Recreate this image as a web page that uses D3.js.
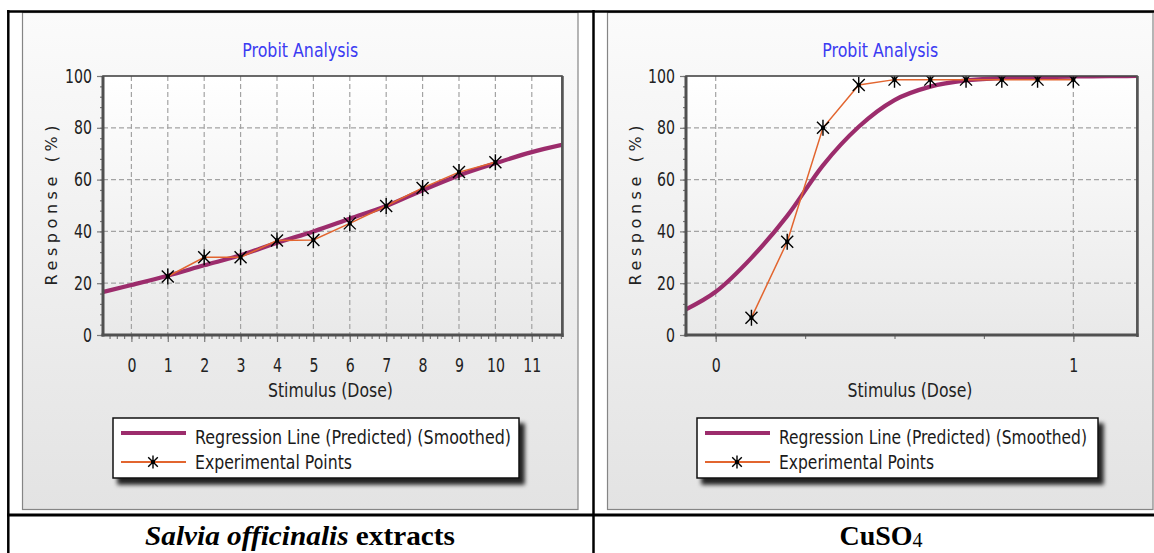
<!DOCTYPE html>
<html>
<head>
<meta charset="utf-8">
<script src="https://cdn.jsdelivr.net/npm/d3@7"></script>
<style>
  body { margin: 0; background: #fff; }
  svg { display: block; }
</style>
</head>
<body>
<svg id="fig"></svg>
<script>
// ---- data ----
const yTicks = [0, 20, 40, 60, 80, 100];

// Salvia officinalis extracts
const leftXDomain = [-0.78, 11.83];
const leftXTicks = [0, 1, 2, 3, 4, 5, 6, 7, 8, 9, 10, 11];
const leftDoses = [1, 2, 3, 4, 5, 6, 7, 8, 9, 10];
const leftObserved = [22.6, 30.0, 30.0, 36.5, 36.7, 43.1, 49.8, 56.8, 62.9, 66.7];
const leftFitDoses = [-0.78, 0, 1, 2, 3, 4, 5, 6, 7, 8, 9, 10, 11, 11.83];
const leftFitted = [16.6, 19.3, 22.9, 26.9, 30.8, 35.6, 40.0, 44.9, 49.8, 55.9, 61.6, 66.3, 70.6, 73.4];

// CuSO4
const rightXDomain = [-0.083, 1.178];
const rightXTicks = [0, 0.25, 0.5, 0.75, 1];
const rightXLabels = [0, 1];
const rightDoses = [0.1, 0.2, 0.3, 0.4, 0.5, 0.6, 0.7, 0.8, 0.9, 1.0];
const rightObserved = [6.7, 36.0, 80.0, 96.5, 98.6, 98.6, 98.6, 98.6, 98.6, 98.6];
const rightFitDoses = [-0.083, 0, 0.1, 0.2, 0.3, 0.4, 0.5, 0.6, 0.7, 0.8, 0.9, 1.0, 1.1, 1.178];
const rightFitted = [9.9, 16.7, 29.8, 46.0, 65.5, 80.4, 90.7, 95.9, 98.3, 99.2, 99.6, 99.8, 99.9, 100];

const chartTitle = "Probit Analysis";
const xTitle = "Stimulus (Dose)";
const yTitle = "Response (%)";
const legendLabels = ["Regression Line (Predicted) (Smoothed)", "Experimental Points"];

const W = 1154, H = 553;
const purple = "#9c2c6c", orange = "#e2652f";
const font = "DejaVu Sans, Verdana, sans-serif";
const serif = "Liberation Serif, Times New Roman, serif";

const svg = d3.select("#fig").attr("width", W).attr("height", H);
const defs = svg.append("defs");

function vGrad(id, top, bottom) {
    const g = defs.append("linearGradient").attr("id", id)
        .attr("x1", 0).attr("y1", 0).attr("x2", 0).attr("y2", 1);
    g.append("stop").attr("offset", "0%").attr("stop-color", top);
    g.append("stop").attr("offset", "100%").attr("stop-color", bottom);
}
vGrad("panelBg", "#fbfbfb", "#e3e3e3");
vGrad("plotBg", "#ffffff", "#e9e9e9");

defs.append("filter").attr("id", "shadow")
    .attr("x", "-10%").attr("y", "-30%").attr("width", "125%").attr("height", "170%")
    .append("feDropShadow")
    .attr("dx", 5).attr("dy", 6).attr("stdDeviation", 2)
    .attr("flood-color", "#000").attr("flood-opacity", 0.85);

function starPath(cx, cy, s) {
    const p = d3.path();
    p.moveTo(cx, cy - 8 * s); p.lineTo(cx, cy + 8 * s);
    p.moveTo(cx - 6 * s, cy - 6 * s); p.lineTo(cx + 6 * s, cy + 6 * s);
    p.moveTo(cx + 6 * s, cy - 6 * s); p.lineTo(cx - 6 * s, cy + 6 * s);
    return p.toString();
}

function drawStar(g, cx, cy, s) {
    g.append("path").attr("d", starPath(cx, cy, s))
        .attr("stroke", "#000").attr("stroke-width", 1.4).attr("fill", "none");
    g.append("rect").attr("x", cx - 2).attr("y", cy - 2).attr("width", 4).attr("height", 4).attr("fill", "#000");
}

// the source picture is stretched a bit vertically, so legend text gets a y-scale
function tallText(parent, x, y, size, sy, width, label) {
    return parent.append("g")
        .attr("transform", "translate(" + x + "," + y + ") scale(1," + sy + ")")
        .append("text")
        .attr("font-family", font).attr("font-size", size).attr("fill", "#1a1a1a")
        .attr("textLength", width).attr("lengthAdjust", "spacingAndGlyphs")
        .text(label);
}

const charts = [
    {
        id: "left", panel: [22.5, 12.5, 555.5, 497], plot: [103, 76, 562, 335],
        xDomain: leftXDomain, xMajor: leftXTicks, xLabels: leftXTicks, xGrid: leftXTicks,
        xMinor: d3.range(-3, 60).map(i => i / 5),
        obsX: leftDoses, obsY: leftObserved, fitX: leftFitDoses, fitY: leftFitted,
        legend: [113, 418, 406, 60], legendText: [316, 157], yTitleX: 56.5, xTitleX: 330.5
    },
    {
        id: "right", panel: [607.5, 12.5, 545.5, 497], plot: [686, 76, 1137, 335],
        xDomain: rightXDomain, xMajor: rightXLabels, xLabels: rightXLabels, xGrid: rightXLabels,
        xMinor: rightXTicks,
        obsX: rightDoses, obsY: rightObserved, fitX: rightFitDoses, fitY: rightFitted,
        legend: [697, 418, 401, 60], legendText: [308, 155], yTitleX: 641, xTitleX: 910
    }
];

charts.forEach(function (c) {
    const [px0, py0, px1, py1] = c.plot;
    const root = svg.append("g").attr("id", c.id);

    // panel
    root.append("rect")
        .attr("x", c.panel[0]).attr("y", c.panel[1])
        .attr("width", c.panel[2]).attr("height", c.panel[3])
        .attr("fill", "url(#panelBg)").attr("stroke", "#858585").attr("stroke-width", 1.2);

    root.append("text")
        .attr("x", c.panel[0] + c.panel[2] / 2).attr("y", 56.5)
        .attr("text-anchor", "middle")
        .attr("font-family", font).attr("font-size", 20)
        .attr("textLength", 116).attr("lengthAdjust", "spacingAndGlyphs")
        .attr("fill", "#3b3bf2")
        .text(chartTitle);

    const x = d3.scaleLinear().domain(c.xDomain).range([px0, px1]);
    const y = d3.scaleLinear().domain([0, 100]).range([py1, py0]);

    // plot background
    root.append("rect")
        .attr("x", px0).attr("y", py0).attr("width", px1 - px0).attr("height", py1 - py0)
        .attr("fill", "url(#plotBg)");

    // grid
    const grid = root.append("g")
        .attr("stroke", "#a3a3a3").attr("stroke-width", 1.2).attr("stroke-dasharray", "5,3");
    grid.selectAll(".gx").data(c.xGrid).join("line")
        .attr("x1", d => x(d)).attr("x2", d => x(d))
        .attr("y1", py0).attr("y2", py1);
    grid.selectAll(".gy").data(yTicks.slice(1, -1)).join("line")
        .attr("x1", px0).attr("x2", px1)
        .attr("y1", d => y(d)).attr("y2", d => y(d));

    // series, clipped to the plot area
    root.append("clipPath").attr("id", "clip-" + c.id)
        .append("rect").attr("x", px0).attr("y", py0).attr("width", px1 - px0).attr("height", py1 - py0);
    const marks = root.append("g").attr("clip-path", "url(#clip-" + c.id + ")");

    const fit = c.fitX.map((d, i) => [d, c.fitY[i]]);
    const obs = c.obsX.map((d, i) => [d, c.obsY[i]]);

    marks.append("path").datum(fit)
        .attr("fill", "none").attr("stroke", purple).attr("stroke-width", 4.2)
        .attr("d", d3.line().x(d => x(d[0])).y(d => y(d[1])).curve(d3.curveMonotoneX));

    marks.append("path").datum(obs)
        .attr("fill", "none").attr("stroke", orange).attr("stroke-width", 1.5)
        .attr("d", d3.line().x(d => x(d[0])).y(d => y(d[1])));

    marks.selectAll(".pt").data(obs).join("path")
        .attr("class", "pt")
        .attr("d", d => starPath(x(d[0]), y(d[1]), 1))
        .attr("stroke", "#000").attr("stroke-width", 1.4).attr("fill", "none");
    marks.selectAll(".ptc").data(obs).join("rect")
        .attr("class", "ptc")
        .attr("x", d => x(d[0]) - 2).attr("y", d => y(d[1]) - 2)
        .attr("width", 4).attr("height", 4).attr("fill", "#000");

    // frame
    root.append("rect")
        .attr("x", px0).attr("y", py0).attr("width", px1 - px0).attr("height", py1 - py0)
        .attr("fill", "none").attr("stroke", "#454545").attr("stroke-width", 1.6);
    root.append("line").attr("x1", px1 + 0.5).attr("x2", px1 + 0.5).attr("y1", py0).attr("y2", py1 + 2)
        .attr("stroke", "#555").attr("stroke-width", 2.5);

    // y axis
    const yMinor = root.append("g").attr("transform", "translate(" + px0 + ",0)")
        .call(d3.axisLeft(y).tickValues(d3.range(0, 101, 4)).tickSize(3).tickFormat(""));
    const yAxis = root.append("g").attr("transform", "translate(" + px0 + ",0)")
        .call(d3.axisLeft(y).tickValues(yTicks).tickSize(6).tickPadding(10));
    [yMinor, yAxis].forEach(a => {
        a.select(".domain").remove();
        a.selectAll(".tick line").attr("stroke", "#7a7a7a").attr("stroke-width", 1.2);
    });
    yAxis.selectAll("text")
        .attr("font-family", font).attr("font-size", 19).attr("fill", "#222")
        .attr("x", -11)
        .attr("textLength", d => String(d).length * 9).attr("lengthAdjust", "spacingAndGlyphs");

    // x axis
    const xMinor = root.append("g").attr("transform", "translate(0," + py1 + ")")
        .call(d3.axisBottom(x).tickValues(c.xMinor).tickSize(4).tickFormat(""));
    const xAxis = root.append("g").attr("transform", "translate(0," + py1 + ")")
        .call(d3.axisBottom(x).tickValues(c.xMajor).tickSize(7).tickFormat(d => String(d)));
    [xMinor, xAxis].forEach(a => {
        a.select(".domain").remove();
        a.selectAll(".tick line").attr("stroke", "#7a7a7a").attr("stroke-width", 1.2);
    });
    xAxis.selectAll("text")
        .attr("font-family", font).attr("font-size", 19).attr("fill", "#222")
        .attr("y", 37).attr("dy", null)
        .attr("textLength", d => String(d).length * 9).attr("lengthAdjust", "spacingAndGlyphs");

    // heavy axis lines
    root.append("line").attr("x1", px0).attr("x2", px0).attr("y1", py0).attr("y2", py1 + 1.5)
        .attr("stroke", "#505050").attr("stroke-width", 3);
    root.append("line").attr("x1", px0 - 1.5).attr("x2", px1 + 1.5).attr("y1", py1).attr("y2", py1)
        .attr("stroke", "#505050").attr("stroke-width", 3);

    // axis titles
    root.append("text")
        .attr("x", c.xTitleX).attr("y", 397)
        .attr("text-anchor", "middle")
        .attr("font-family", font).attr("font-size", 19).attr("fill", "#222")
        .attr("textLength", 125).attr("lengthAdjust", "spacingAndGlyphs")
        .text(xTitle);
    root.append("text")
        .attr("transform", "translate(" + c.yTitleX + "," + ((py0 + py1) / 2) + ") rotate(-90)")
        .attr("text-anchor", "middle")
        .attr("font-family", font).attr("font-size", 16).attr("fill", "#222")
        .attr("textLength", 160).attr("lengthAdjust", "spacing")
        .text(yTitle);

    // legend
    const [lx, ly, lw, lh] = c.legend;
    const lg = root.append("g").attr("transform", "translate(" + lx + "," + ly + ")");
    lg.append("rect").attr("width", lw).attr("height", lh)
        .attr("fill", "#fff").attr("stroke", "#111").attr("stroke-width", 1.5)
        .attr("filter", "url(#shadow)");
    lg.append("line").attr("x1", 8).attr("x2", 73).attr("y1", 15).attr("y2", 15)
        .attr("stroke", purple).attr("stroke-width", 4);
    lg.append("line").attr("x1", 8).attr("x2", 73).attr("y1", 44).attr("y2", 44)
        .attr("stroke", orange).attr("stroke-width", 2);
    drawStar(lg, 40, 44, 0.8);
    tallText(lg, 82, 25.5, 15.5, 1.23, c.legendText[0], legendLabels[0]);
    tallText(lg, 82, 50.5, 15.5, 1.23, c.legendText[1], legendLabels[1]);
});

// table rules
const rules = svg.append("g").attr("stroke", "#000");
rules.append("line").attr("x1", 7).attr("x2", W).attr("y1", 11.5).attr("y2", 11.5).attr("stroke-width", 2.5);
rules.append("line").attr("x1", 8.3).attr("x2", 8.3).attr("y1", 10).attr("y2", H).attr("stroke-width", 2.5);
rules.append("line").attr("x1", 593.5).attr("x2", 593.5).attr("y1", 10).attr("y2", H).attr("stroke-width", 2.5);
rules.append("line").attr("x1", 7).attr("x2", W).attr("y1", 515).attr("y2", 515).attr("stroke-width", 3);

// captions
const cap1 = svg.append("text").attr("x", 300).attr("y", 545)
    .attr("text-anchor", "middle")
    .attr("font-family", serif).attr("font-size", 28)
    .attr("font-weight", "bold").attr("fill", "#000")
    .attr("textLength", 310).attr("lengthAdjust", "spacingAndGlyphs");
cap1.append("tspan").attr("font-style", "italic").text("Salvia officinalis");
cap1.append("tspan").text(" extracts");

const cap2 = svg.append("text").attr("x", 881).attr("y", 545)
    .attr("text-anchor", "middle")
    .attr("font-family", serif).attr("font-size", 28)
    .attr("font-weight", "bold").attr("fill", "#000");
cap2.append("tspan").text("CuSO");
cap2.append("tspan").attr("font-size", 20).attr("font-weight", "normal").attr("dy", 2).text("4");
</script>
</body>
</html>
